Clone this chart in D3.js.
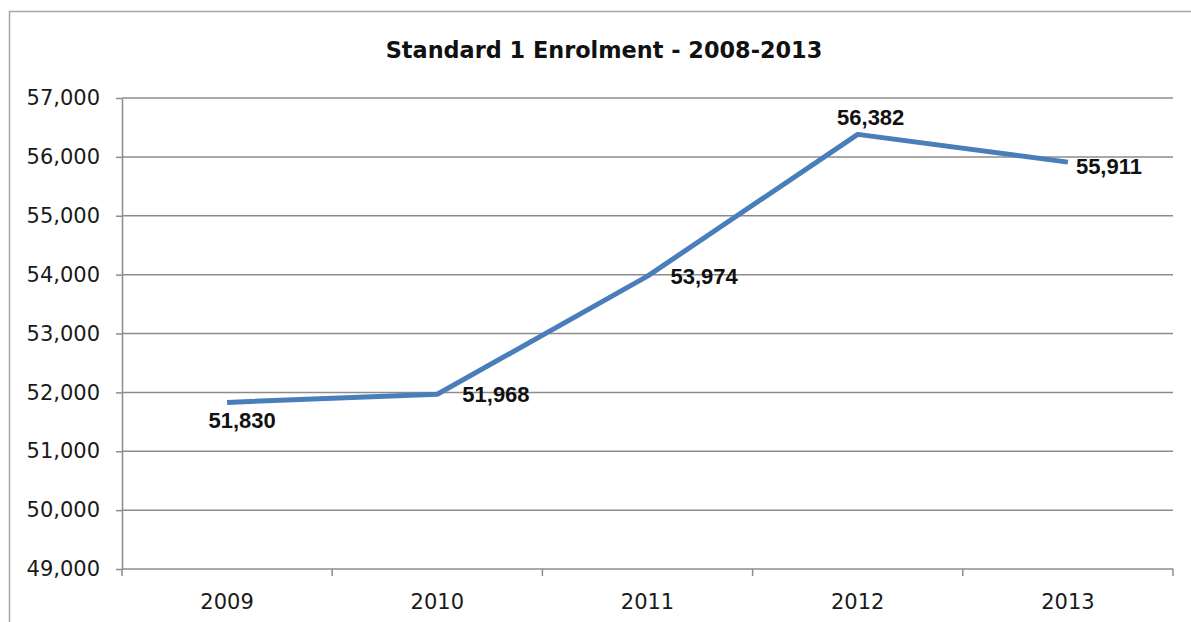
<!DOCTYPE html>
<html><head><meta charset="utf-8">
<script src="https://cdn.jsdelivr.net/npm/d3@7"></script>
<style>
html,body{margin:0;padding:0;background:#fff;overflow:hidden;}
svg{display:block;}
</style></head>
<body>
<svg id="chart" width="1191" height="622"></svg>
<script>
const title = "Standard 1 Enrolment - 2008-2013";
const years = ["2009", "2010", "2011", "2012", "2013"];
const enrolment = [51830, 51968, 53974, 56382, 55911];
const yTicks = [49000, 50000, 51000, 52000, 53000, 54000, 55000, 56000, 57000];

// label layout (style, not data): anchor and offsets from the point
const labelLayout = [
  {anchor: "middle", dx: 15, dy: 26},
  {anchor: "start", dx: 25, dy: 8},
  {anchor: "start", dx: 23, dy: 8},
  {anchor: "middle", dx: 13, dy: -9},
  {anchor: "start", dx: 8, dy: 12}
];

const svg = d3.select("#chart");
const m = {left: 122, right: 1173, top: 98, bottom: 569};
const font = "'DejaVu Sans', sans-serif";
const labelFont = "'Liberation Sans', Arial, sans-serif";
const gridColor = "#8c8c8c";

// outer frame (top and left edges visible)
svg.append("path").attr("d", "M9.5,700 V11.5 H1200")
  .attr("fill", "none").attr("stroke", "#a6a6a6").attr("stroke-width", 1.5);

const x = d3.scaleBand().domain(years).range([m.left, m.right]).padding(0);
const y = d3.scaleLinear().domain([49000, 57000]).range([m.bottom, m.top]);

// gridlines
svg.append("g").selectAll("line").data(yTicks.filter(v => v > 49000)).join("line")
  .attr("x1", m.left).attr("x2", m.right)
  .attr("y1", d => y(d)).attr("y2", d => y(d))
  .attr("stroke", gridColor).attr("stroke-width", 1.5);

// y axis
const yAxis = d3.axisLeft(y).tickValues(yTicks).tickSize(6).tickSizeOuter(0).tickPadding(16)
  .tickFormat(d3.format(","));
const gy = svg.append("g").attr("transform", `translate(${m.left},0)`).call(yAxis);
gy.select(".domain").attr("stroke", gridColor).attr("stroke-width", 1.5);
gy.selectAll(".tick line").attr("stroke", gridColor).attr("stroke-width", 1.5);
gy.selectAll(".tick text").attr("font-family", font).attr("font-size", 21)
  .attr("fill", "#1a1a1a");

// x axis
const gx = svg.append("g").attr("transform", `translate(0,${m.bottom})`);
gx.append("line").attr("x1", m.left).attr("x2", m.right).attr("stroke", gridColor).attr("stroke-width", 1.5);
const bounds = years.map(d => x(d)).concat([x(years[years.length-1]) + x.bandwidth()]);
gx.selectAll(".tk").data(bounds).join("line").attr("class", "tk")
  .attr("x1", d => d).attr("x2", d => d).attr("y1", 0).attr("y2", 7)
  .attr("stroke", gridColor).attr("stroke-width", 1.5);
gx.selectAll("text").data(years).join("text")
  .attr("x", d => x(d) + x.bandwidth()/2).attr("y", 40)
  .attr("text-anchor", "middle").attr("font-family", font).attr("font-size", 21)
  .attr("fill", "#1a1a1a").text(d => d);

// line
const pts = years.map((d, i) => [x(d) + x.bandwidth()/2, y(enrolment[i])]);
svg.append("path").attr("d", d3.line()(pts)).attr("fill", "none")
  .attr("stroke", "#4a7ebb").attr("stroke-width", 5).attr("stroke-linejoin", "round");

// data labels
const fmt = d3.format(",");
svg.append("g").selectAll("text").data(enrolment).join("text")
  .attr("font-family", labelFont).attr("font-weight", "bold").attr("font-size", 22)
  .attr("fill", "#111")
  .attr("x", (d, i) => pts[i][0] + labelLayout[i].dx)
  .attr("y", (d, i) => pts[i][1] + labelLayout[i].dy)
  .attr("text-anchor", (d, i) => labelLayout[i].anchor)
  .text(d => fmt(d));

// title
svg.append("text").attr("x", 604).attr("y", 58).attr("text-anchor", "middle")
  .attr("font-family", font).attr("font-weight", "bold").attr("font-size", 22.4)
  .attr("fill", "#111").text(title);
</script>
</body></html>
